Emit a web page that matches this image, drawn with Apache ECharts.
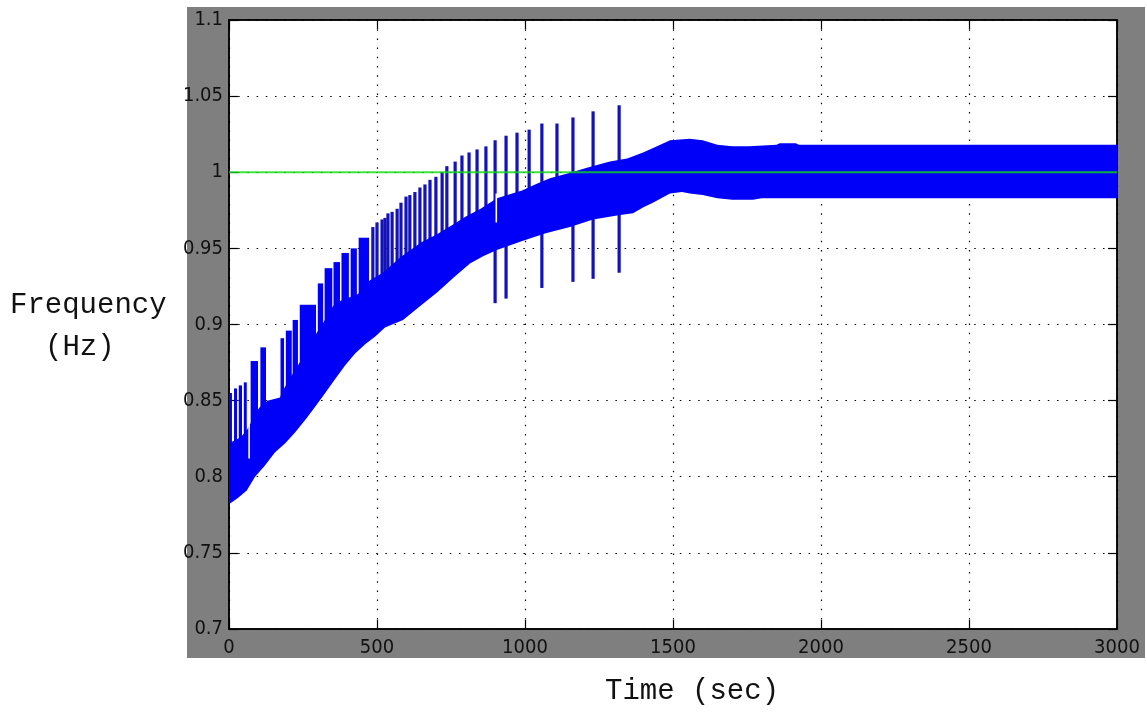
<!DOCTYPE html>
<html>
<head>
<meta charset="utf-8">
<title>Frequency vs Time</title>
<script src="https://cdn.jsdelivr.net/npm/echarts@6/dist/echarts.min.js"></script>
<style>
  html, body { margin: 0; padding: 0; background: #ffffff; }
  #chart { width: 1147px; height: 713px; }
</style>
</head>
<body>
<div id="chart"></div>
<script>
// ---- axes ----
const X_MIN = 0, X_MAX = 3000, X_STEP = 500;
const Y_MIN = 0.7, Y_MAX = 1.1, Y_STEP = 0.05;
const xTickLabels = ['0', '500', '1000', '1500', '2000', '2500', '3000'];
const yTickLabels = ['0.7', '0.75', '0.8', '0.85', '0.9', '0.95', '1', '1.05', '1.1'];

// ---- measured frequency: the fast oscillation fills a band ----
// lower edge of the band (sec, Hz)
const lowTime = [0, 30, 60, 88, 120, 155, 190, 223, 260, 291, 325, 358, 392, 426, 460, 493, 527,
  588, 645, 703, 760, 814, 860, 905, 950, 993, 1070, 1152, 1230, 1321, 1365, 1400, 1432, 1460,
  1490, 1530, 1557, 1600, 1650, 1700, 1770, 1800, 1900, 2500, 3000];
const lowValue = [0.782, 0.786, 0.791, 0.800, 0.807, 0.816, 0.822, 0.829, 0.838, 0.846, 0.855, 0.864,
  0.873, 0.881, 0.887, 0.892, 0.898, 0.903, 0.912, 0.921, 0.931, 0.940, 0.945, 0.949, 0.952, 0.955,
  0.960, 0.964, 0.969, 0.972, 0.973, 0.977, 0.980, 0.983, 0.986, 0.987, 0.986, 0.985, 0.983, 0.982,
  0.982, 0.983, 0.983, 0.983, 0.983];
// upper edge of the continuous part of the band (sec, Hz)
const topTime = [0, 40, 65, 90, 105, 130, 172, 186, 213, 236, 257, 291, 321, 351, 380, 410, 436,
  476, 520, 578, 650, 700, 760, 800, 850, 905, 990, 1034, 1084, 1159, 1209, 1287, 1345, 1399,
  1446, 1490, 1557, 1600, 1650, 1700, 1757, 1850, 1860, 1915, 1925, 3000];
const topValue = [0.822, 0.826, 0.832, 0.842, 0.846, 0.850, 0.852, 0.858, 0.867, 0.874, 0.882, 0.893,
  0.902, 0.912, 0.916, 0.918, 0.920, 0.929, 0.934, 0.944, 0.954, 0.959, 0.966, 0.971, 0.976, 0.983,
  0.988, 0.992, 0.996, 1.000, 1.003, 1.007, 1.009, 1.013, 1.017, 1.021, 1.022, 1.021, 1.018, 1.017,
  1.017, 1.018, 1.019, 1.019, 1.018, 1.018];

// overshoot bursts: [start sec, end sec, low Hz, high Hz]; start == end marks a single pulse
const bursts = [
  [0, 10, 0.815, 0.855], [17, 27, 0.818, 0.858], [33, 44, 0.820, 0.860], [50, 60, 0.822, 0.862],
  [73, 98, 0.835, 0.876], [106, 125, 0.840, 0.885], [174, 186, 0.850, 0.891], [192, 212, 0.855, 0.896],
  [215, 233, 0.862, 0.903], [239, 294, 0.870, 0.913], [300, 318, 0.890, 0.927], [323, 349, 0.895, 0.937],
  [353, 375, 0.905, 0.941], [380, 405, 0.908, 0.947], [411, 432, 0.910, 0.950], [438, 473, 0.912, 0.957],
  [486, 486, 0.924, 0.964], [500, 500, 0.925, 0.967], [517, 517, 0.927, 0.969], [527, 527, 0.928, 0.970],
  [537, 537, 0.929, 0.973], [551, 551, 0.931, 0.974], [568, 568, 0.934, 0.976], [581, 581, 0.936, 0.980],
  [598, 598, 0.938, 0.984], [611, 611, 0.940, 0.985], [628, 628, 0.942, 0.987], [645, 645, 0.944, 0.990],
  [662, 662, 0.946, 0.992], [679, 679, 0.948, 0.995], [699, 699, 0.950, 0.997], [720, 720, 0.952, 1.000],
  [736, 736, 0.954, 1.004], [764, 764, 0.958, 1.007], [787, 787, 0.961, 1.011], [811, 811, 0.964, 1.013],
  [838, 838, 0.966, 1.015], [868, 868, 0.970, 1.017], [899, 899, 0.914, 1.021], [936, 936, 0.917, 1.024],
  [973, 973, 0.978, 1.026], [1014, 1014, 0.982, 1.028], [1057, 1057, 0.924, 1.032], [1108, 1108, 0.988, 1.032],
  [1162, 1162, 0.928, 1.036], [1230, 1230, 0.930, 1.040], [1318, 1318, 0.934, 1.044]
];
// short dropouts inside the band: [sec, low Hz, high Hz]
const dropouts = [[68, 0.812, 0.834], [903, 0.967, 0.986]];

// reference frequency
const refTime = [0, 3000];
const refValue = [1, 1];

const BAND_BLUE = '#0000fa';
const PULSE_BLUE = '#1212b8';
const TICK_FONT = "'Liberation Sans Narrow', 'DejaVu Sans Condensed', sans-serif";
const TITLE_FONT = "'Liberation Mono', 'DejaVu Sans Mono', monospace";

const chart = echarts.init(document.getElementById('chart'), null, { renderer: 'canvas' });

function xLabel(v) { return xTickLabels[Math.round((v - X_MIN) / X_STEP)]; }
function yLabel(v) { return yTickLabels[Math.round((v - Y_MIN) / Y_STEP)]; }

const axisLineStyle = { color: '#000', width: 1.5 };
const tickStyle = { show: true, inside: true, length: 9, lineStyle: { color: '#000', width: 1.2 } };
const gridDots = { show: true, lineStyle: { color: '#000', width: 1.2, type: [1.5, 7.7] } };
const labelStyle = { color: '#111', fontFamily: TICK_FONT, fontSize: 20 };

const option = {
  animation: false,
  backgroundColor: '#ffffff',
  grid: {
    left: 229, top: 20, width: 888, height: 609,
    show: true, backgroundColor: '#ffffff', borderColor: '#000', borderWidth: 1.5,
    outerBoundsMode: 'none'
  },
  graphic: {
    elements: [
      { type: 'rect', z: -10, silent: true, shape: { x: 187, y: 7, width: 958, height: 651 },
        style: { fill: '#7f7f7f' } },
      { type: 'text', left: 10, top: 291, silent: true,
        style: { text: 'Frequency', font: '29px ' + TITLE_FONT, fill: '#111' } },
      { type: 'text', left: 45, top: 333, silent: true,
        style: { text: '(Hz)', font: '29px ' + TITLE_FONT, fill: '#111' } },
      { type: 'text', left: 605, top: 677, silent: true,
        style: { text: 'Time (sec)', font: '29px ' + TITLE_FONT, fill: '#111' } }
    ]
  },
  xAxis: [
    {
      type: 'value', position: 'bottom', min: X_MIN, max: X_MAX, interval: X_STEP,
      axisLine: { show: true, onZero: false, lineStyle: axisLineStyle },
      axisTick: tickStyle,
      axisLabel: Object.assign({ margin: 9, formatter: xLabel }, labelStyle),
      splitLine: gridDots
    },
    {
      type: 'value', position: 'top', min: X_MIN, max: X_MAX, interval: X_STEP,
      axisLine: { show: true, onZero: false, lineStyle: axisLineStyle },
      axisTick: tickStyle, axisLabel: { show: false }, splitLine: { show: false }
    }
  ],
  yAxis: [
    {
      type: 'value', position: 'left', min: Y_MIN, max: Y_MAX, interval: Y_STEP,
      axisLine: { show: true, onZero: false, lineStyle: axisLineStyle },
      axisTick: tickStyle,
      axisLabel: Object.assign({ margin: 6, formatter: yLabel }, labelStyle),
      splitLine: gridDots
    },
    {
      type: 'value', position: 'right', min: Y_MIN, max: Y_MAX, interval: Y_STEP,
      axisLine: { show: true, onZero: false, lineStyle: axisLineStyle },
      axisTick: tickStyle, axisLabel: { show: false }, splitLine: { show: false }
    }
  ],
  series: [
    {
      // bursts sit under the band, only their overshoot shows
      name: 'bursts', type: 'custom', clip: true, z: 2,
      encode: { x: [0, 1], y: [2, 3] },
      data: bursts,
      renderItem: function (params, api) {
        const t0 = api.value(0), t1 = api.value(1), lo = api.value(2), hi = api.value(3);
        const a = api.coord([t0, hi]);
        const b = api.coord([t1, lo]);
        let x = a[0], w = b[0] - a[0];
        const single = w < 1;
        if (single) { x -= 1.6; w = 3.2; }
        return {
          type: 'rect',
          shape: { x: x, y: a[1], width: w, height: b[1] - a[1] },
          style: { fill: single ? PULSE_BLUE : BAND_BLUE }
        };
      }
    },
    {
      name: 'band', type: 'custom', clip: true, z: 3,
      data: [[X_MIN, Y_MIN]],
      renderItem: function (params, api) {
        const pts = [];
        for (let i = 0; i < topTime.length; i++) pts.push(api.coord([topTime[i], topValue[i]]));
        for (let i = lowTime.length - 1; i >= 0; i--) pts.push(api.coord([lowTime[i], lowValue[i]]));
        return { type: 'polygon', shape: { points: pts }, style: { fill: BAND_BLUE } };
      }
    },
    {
      name: 'dropouts', type: 'custom', clip: true, z: 4,
      encode: { x: 0, y: [1, 2] },
      data: dropouts,
      renderItem: function (params, api) {
        const a = api.coord([api.value(0), api.value(2)]);
        const b = api.coord([api.value(0), api.value(1)]);
        return {
          type: 'line',
          shape: { x1: a[0], y1: a[1], x2: b[0], y2: b[1] },
          style: { stroke: '#ffffff', lineWidth: 1.6 }
        };
      }
    },
    {
      name: 'reference', type: 'line', z: 5, symbol: 'none', silent: true,
      data: refTime.map(function (t, i) { return [t, refValue[i]]; }),
      lineStyle: { color: '#10dc10', width: 2.2, opacity: 0.8 }
    }
  ]
};

chart.setOption(option);
</script>
</body>
</html>
